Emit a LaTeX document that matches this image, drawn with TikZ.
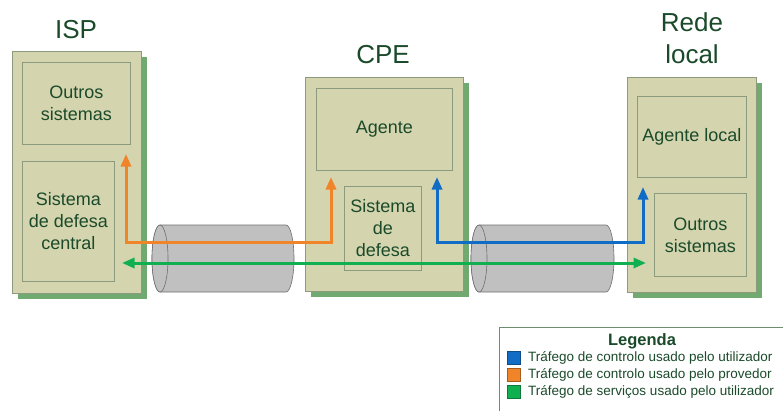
\documentclass[tikz,border=0pt]{standalone}
\usepackage{fontspec}
\setmainfont{Liberation Sans}
\usetikzlibrary{arrows.meta,shadows}

\definecolor{boxfill}{RGB}{212,212,174}
\definecolor{boxline}{RGB}{140,155,125}
\definecolor{shadowc}{RGB}{112,170,112}
\definecolor{txt}{RGB}{26,74,42}
\definecolor{ctrlblue}{RGB}{16,108,196}
\definecolor{ctrlorange}{RGB}{240,132,40}
\definecolor{svcgreen}{RGB}{16,176,80}
\definecolor{pipefill}{RGB}{192,192,192}
\definecolor{pipeline}{RGB}{110,110,110}
\definecolor{legline}{RGB}{110,140,110}

\tikzset{
  site/.style={draw=boxline, fill=boxfill, line width=0.8pt, anchor=north west,
    inner sep=0pt,
    drop shadow={shadow xshift=6pt, shadow yshift=-6pt, fill=shadowc, draw=none, opacity=1}},
  part/.style={draw=boxline, fill=boxfill, line width=0.8pt, anchor=north west,
    inner sep=0pt},
  parttext/.style={align=center, text=txt, font=\fontsize{18}{22}\selectfont},
  sitename/.style={text=txt, align=center, font=\fontsize{26}{32}\selectfont},
  pipe/.style={fill=pipefill, draw=pipeline, line width=0.6pt},
  flow/.style={line width=3pt, {Triangle[length=12.5pt,width=10pt]}-{Triangle[length=12.5pt,width=10pt]}},
  legitem/.style={anchor=west, text=txt, inner sep=0pt, font=\fontsize{13.5}{16}\selectfont},
  legkey/.style={minimum size=13pt, inner sep=0pt, line width=0.5pt},
}

\begin{document}
\begin{tikzpicture}[x=1pt, y=-1pt]
\useasboundingbox (0,0) rectangle (783,410);
\clip (0,0) rectangle (783,410);

% site titles
\node[sitename] (ispname) at (76,30) {ISP};
\node[sitename] (cpename) at (383,55) {CPE};
\node[sitename] (lanname) at (692,38) {Rede\\local};

% site boxes
\node[site, minimum width=129pt, minimum height=242pt] (isp) at (12,51) {};
\node[site, minimum width=158pt, minimum height=214pt] (cpe) at (305,77) {};
\node[site, minimum width=129pt, minimum height=215pt] (lan) at (627,77) {};

% components inside each site
\node[part, minimum width=108pt, minimum height=82pt] (ispother) at (22,62) {};
\node[parttext] (ispothertxt) at (ispother.center) {Outros\\sistemas};
\node[part, minimum width=92pt, minimum height=120pt] (ispdef) at (22,161) {};
\node[parttext] (ispdeftxt) at (ispdef.center) {Sistema\\de defesa\\central};

\node[part, minimum width=136pt, minimum height=82pt] (agent) at (316,88) {};
\node[parttext] (agenttxt) at (agent.center) {Agente};
\node[part, minimum width=77pt, minimum height=84pt] (cpedef) at (344,186) {};
\node[parttext] (cpedeftxt) at (cpedef.center) {Sistema\\de\\defesa};

\node[part, minimum width=109pt, minimum height=81pt] (lanagent) at (637,96) {};
\node[parttext] (lanagenttxt) at (lanagent.center) {Agente local};
\node[part, minimum width=92pt, minimum height=83pt] (lanother) at (654,193) {};
\node[parttext] (lanothertxt) at (lanother.center) {Outros\\sistemas};

% links between sites
\path[pipe] (160,225) -- (286,225)
  arc[start angle=90, end angle=-90, x radius=8pt, y radius=33.5pt]
  -- (160,292)
  arc[start angle=270, end angle=90, x radius=8pt, y radius=33.5pt] -- cycle;
\draw[pipe] (160,258.5) ellipse [x radius=8pt, y radius=33.5pt];
\path[pipe] (479,225) -- (606,225)
  arc[start angle=90, end angle=-90, x radius=8pt, y radius=33.5pt]
  -- (479,292)
  arc[start angle=270, end angle=90, x radius=8pt, y radius=33.5pt] -- cycle;
\draw[pipe] (479,258.5) ellipse [x radius=8pt, y radius=33.5pt];

% traffic flows
\coordinate (or1) at (126,154);
\coordinate (or2) at (331,177);
\coordinate (bl1) at (437,177);
\coordinate (bl2) at (643,187);
\coordinate (gr1) at (122,263);
\coordinate (gr2) at (646,263);
\draw[flow, ctrlorange] (or1) -- ++(0,88) -| (or2);
\draw[flow, ctrlblue] (bl1) -- ++(0,65) -| (bl2);
\draw[flow, svcgreen] (gr1) -- (gr2);

% legend
\draw[legline, line width=0.8pt] (499,327) rectangle (800,420);
\node[text=txt, font=\bfseries\fontsize{16.5}{19}\selectfont] (legtitle) at (642,341) {Legenda};
\node[legkey, fill=ctrlblue, draw=ctrlblue!70!black] (kb) at (514,358) {};
\node[legitem] (lb) at (528,358) {Tráfego de controlo usado pelo utilizador};
\node[legkey, fill=ctrlorange, draw=ctrlorange!70!black] (ko) at (514,375) {};
\node[legitem] (lo) at (528,375) {Tráfego de controlo usado pelo provedor};
\node[legkey, fill=svcgreen, draw=svcgreen!70!black] (kg) at (514,392) {};
\node[legitem] (lg) at (528,392) {Tráfego de serviços usado pelo utilizador};
\end{tikzpicture}
\end{document}
